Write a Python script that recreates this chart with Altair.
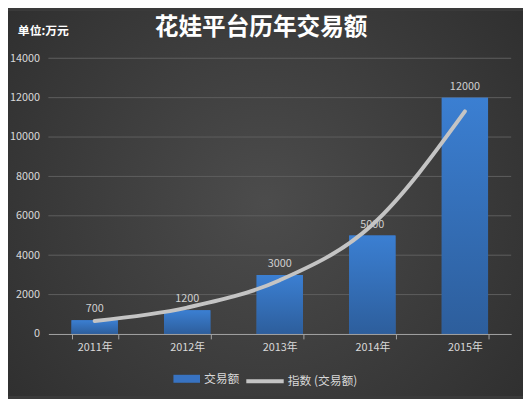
import altair as alt
import pandas as pd

years = ["2011年", "2012年", "2013年", "2014年", "2015年"]
amounts = [700, 1200, 3000, 5000, 12000]
trend = [660, 1340, 2730, 5550, 11300]
title_text = "花娃平台历年交易额"
unit_text = "单位:万元"
bar_name = "交易额"
line_name = "指数 (交易额)"
y_ticks = [0, 2000, 4000, 6000, 8000, 10000, 12000, 14000]
grid_ticks = [2000, 4000, 6000, 8000, 10000, 12000, 14000]

df = pd.DataFrame({"year": years, "amount": amounts, "trend": trend,
                   "s1": [bar_name] * 5, "s2": [line_name] * 5})

W, H = 470, 280
FONT = "Noto Sans CJK SC"

x_enc = alt.X("year:N", sort=years, title=None,
              scale=alt.Scale(paddingInner=0.5, paddingOuter=0.25),
              axis=alt.Axis(labelAngle=0, labelColor="#d9d9d9", labelFontSize=11,
                            labelFont=FONT, domainColor="#a6a6a6", tickColor="#a6a6a6",
                            tickSize=5, tickBand="extent", labelPadding=3, grid=False,
                            zindex=1))
y_scale = alt.Scale(domain=[0, 14000], nice=False)
y_axis = alt.Axis(values=y_ticks, format="d", labelOverlap=False,
                  labelColor="#d9d9d9", labelFontSize=11,
                  labelFont=FONT, domain=False, ticks=False, labelPadding=9,
                  grid=False, zindex=1)
y_enc = alt.Y("amount:Q", title=None, scale=y_scale, axis=y_axis)

bg = alt.Chart(pd.DataFrame({"a": [0]})).mark_rect(
    color=alt.Gradient(gradient="radial", x1=0.5, y1=0.5, x2=0.5, y2=0.5, r1=0, r2=0.75,
                       stops=[alt.GradientStop(offset=0, color="#4c4c4c"),
                              alt.GradientStop(offset=1, color="#2a2a2a")])
).encode(x=alt.value(-41), x2=alt.value(W + 12), y=alt.value(-48), y2=alt.value(H + 63))

grid = alt.Chart(pd.DataFrame({"g": grid_ticks})).mark_rule(
    color="#5e5e5e", strokeWidth=1).encode(
    y=alt.Y("g:Q", scale=y_scale, title=None, axis=y_axis), x=alt.value(0), x2=alt.value(W))

bars_legend = alt.Chart(df).mark_bar().encode(
    x=x_enc, y=y_enc,
    color=alt.Color("s1:N", scale=alt.Scale(domain=[bar_name], range=["#3873c2"]),
                    legend=alt.Legend(title=None, orient="none", legendX=127, legendY=312,
                                      symbolType="M-1,-0.3H1V0.3H-1Z", symbolSize=729,
                                      symbolStrokeWidth=0, labelColor="#d9d9d9",
                                      labelFontSize=12, labelFont=FONT, labelOffset=4,
                                      padding=0)))

bars = alt.Chart(df).mark_bar(
    color=alt.Gradient(gradient="linear", x1=0, y1=0, x2=0, y2=1,
                       stops=[alt.GradientStop(offset=0, color="#3b7fd2"),
                              alt.GradientStop(offset=1, color="#2d5e9c")])
).encode(x=x_enc, y=y_enc)

labels = alt.Chart(df).mark_text(baseline="bottom", dy=-6, color="#d0d0d0",
                                 fontSize=11, font=FONT).encode(
    x=x_enc, y=y_enc, text=alt.Text("amount:Q", format="d"))

line = alt.Chart(df).mark_line(strokeWidth=4, strokeCap="round",
                               interpolate="monotone").encode(
    x=x_enc, y=alt.Y("trend:Q", scale=y_scale, title=None, axis=y_axis),
    stroke=alt.Stroke("s2:N", scale=alt.Scale(domain=[line_name], range=["#c4c4c4"]),
                      legend=alt.Legend(title=None, orient="none", legendX=199, legendY=307,
                                        symbolType="stroke", symbolSize=1444,
                                        symbolStrokeWidth=4, labelColor="#d9d9d9",
                                        labelFontSize=12, labelFont=FONT, labelOffset=2,
                                        padding=0)))

title = alt.Chart(pd.DataFrame({"t": [title_text]})).mark_text(
    fontSize=24, fontWeight="bold", color="#ffffff", font=FONT, align="center",
    baseline="middle").encode(text="t:N", x=alt.value(216), y=alt.value(-31))

unit = alt.Chart(pd.DataFrame({"t": [unit_text]})).mark_text(
    fontSize=12, fontWeight="bold", color="#ffffff", font=FONT, align="left",
    baseline="middle").encode(text="t:N", x=alt.value(-31), y=alt.value(-28))

chart = alt.layer(bg, grid, bars_legend, bars, labels, line, title, unit).properties(
    width=W, height=H,
    padding={"left": 41, "right": 12, "top": 48, "bottom": 63},
    autosize=alt.AutoSizeParams(type="none"),
    background="#3a3a3a"
).configure_view(stroke=None).configure_axis(labelFont=FONT)

chart.save("out.html", embed_options={"renderer": "svg", "actions": False})
